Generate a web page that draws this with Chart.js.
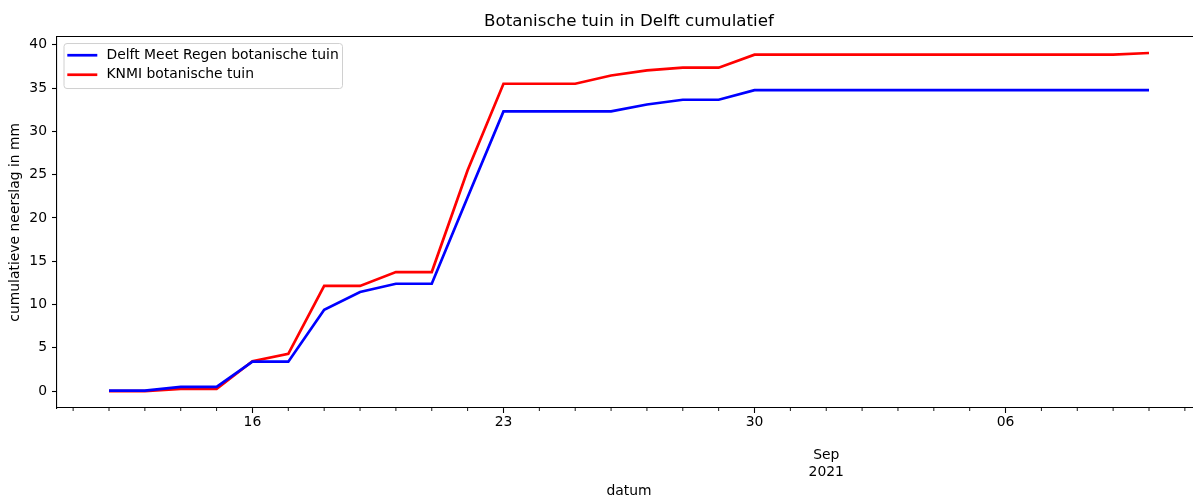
<!DOCTYPE html>
<html><head><meta charset="utf-8">
<script src="https://cdn.jsdelivr.net/npm/chart.js@4/dist/chart.umd.min.js"></script>
<style>html,body{margin:0;padding:0;overflow:hidden;background:#fff;width:1193px;height:498px}
#wrap{position:relative;width:1193px;height:498px;overflow:hidden}
canvas{display:block;position:absolute;left:0;top:0}</style>
</head><body>
<div id="wrap"><canvas id="c" width="1201" height="498" style="width:1201px;height:498px"></canvas></div>
<script>
const dates = ['2021-08-12','2021-08-13','2021-08-14','2021-08-15','2021-08-16','2021-08-17','2021-08-18','2021-08-19','2021-08-20','2021-08-21',
  '2021-08-22','2021-08-23','2021-08-24','2021-08-25','2021-08-26','2021-08-27','2021-08-28','2021-08-29','2021-08-30','2021-08-31',
  '2021-09-01','2021-09-02','2021-09-03','2021-09-04','2021-09-05','2021-09-06','2021-09-07','2021-09-08','2021-09-09','2021-09-10'];
const delftMeetRegen = [0.05,0.05,0.5,0.5,3.4,3.4,9.4,11.45,12.4,12.4,
  22.4,32.3,32.3,32.3,32.3,33.1,33.65,33.65,34.75,34.75,
  34.75,34.75,34.75,34.75,34.75,34.75,34.75,34.75,34.75,34.75];
const knmi = [0.0,0.0,0.25,0.25,3.45,4.3,12.15,12.15,13.75,13.75,
  25.5,35.5,35.5,35.5,36.45,37.05,37.35,37.35,38.85,38.85,
  38.85,38.85,38.85,38.85,38.85,38.85,38.85,38.85,38.85,39.05];
const seriesLabels = ['Delft Meet Regen botanische tuin','KNMI botanische tuin'];
const yTicks = [0,5,10,15,20,25,30,35,40];
const majorTickDates = ['2021-08-16','2021-08-23','2021-08-30','2021-09-06'];
const majorTickLabels = ['16','23','30','06'];
const monthTickDate = '2021-09-01';
const monthTickLabel = ['Sep','2021'];

const FONT = "'DejaVu Sans', sans-serif";
const DAY = 86400000;
const toDay = s => Date.UTC(+s.slice(0,4), +s.slice(5,7)-1, +s.slice(8,10)) / DAY;
const firstDay = toDay(dates[0]), lastDay = toDay(dates[dates.length-1]);
const margin = 0.05*(lastDay-firstDay);
const xMin = firstDay - margin, xMax = lastDay + margin;
const yMin = -1.95, yMax = 40.95;
const majorDays = majorTickDates.map(toDay);
const monthDay = toDay(monthTickDate);
const allDays = [];
for (let d = Math.ceil(xMin); d <= Math.floor(xMax); d++) allDays.push(d);
const isMajor = v => majorDays.includes(v);

const framePlugin = {
  id:'frame',
  afterDraw(chart){
    const c = chart.ctx, a = chart.chartArea, xs = chart.scales.x;
    c.save();
    c.strokeStyle = '#000'; c.lineWidth = 1.1;
    c.beginPath();
    c.moveTo(a.left, a.top); c.lineTo(a.right, a.top); c.lineTo(a.right, a.bottom);
    c.stroke();
    c.lineWidth = 0.9;
    c.beginPath();
    allDays.forEach(d => {
      if (isMajor(d)) return;
      const px = xs.getPixelForValue(d);
      c.moveTo(px, a.bottom); c.lineTo(px, a.bottom + 3);
    });
    c.stroke();
    const lx = a.left + 7, ly = a.top + 7, lw = 278.5, lh = 45, r = 3;
    c.beginPath();
    c.moveTo(lx+r, ly); c.lineTo(lx+lw-r, ly); c.arcTo(lx+lw, ly, lx+lw, ly+r, r);
    c.lineTo(lx+lw, ly+lh-r); c.arcTo(lx+lw, ly+lh, lx+lw-r, ly+lh, r);
    c.lineTo(lx+r, ly+lh); c.arcTo(lx, ly+lh, lx, ly+lh-r, r);
    c.lineTo(lx, ly+r); c.arcTo(lx, ly, lx+r, ly, r);
    c.closePath();
    c.fillStyle = 'rgba(255,255,255,0.8)'; c.fill();
    c.strokeStyle = '#d0d0d0'; c.lineWidth = 1; c.stroke();
    c.font = '13.9px ' + FONT; c.textBaseline = 'middle'; c.textAlign = 'left';
    chart.data.datasets.forEach((ds, i) => {
      const yy = ly + 11.7 + i*19.5;
      c.strokeStyle = ds.borderColor; c.lineWidth = ds.borderWidth;
      c.beginPath(); c.moveTo(lx + 3.3, yy); c.lineTo(lx + 33.3, yy); c.stroke();
      c.fillStyle = '#000'; c.fillText(ds.label, lx + 42.5, yy);
    });
    c.restore();
  }
};

new Chart(document.getElementById('c'), {
  type:'line',
  data:{datasets:[
    {label:seriesLabels[0], data:dates.map((d,i)=>({x:toDay(d), y:delftMeetRegen[i]})), borderColor:'#0000ff', borderWidth:2.7, pointRadius:0, tension:0, fill:false},
    {label:seriesLabels[1], data:dates.map((d,i)=>({x:toDay(d), y:knmi[i]})), borderColor:'#ff0000', borderWidth:2.7, pointRadius:0, tension:0, fill:false}
  ]},
  options:{
    responsive:false, animation:false, devicePixelRatio:1,
    layout:{padding:0},
    plugins:{
      legend:{display:false}, tooltip:{enabled:false},
      title:{display:true, fullSize:false, text:'Botanische tuin in Delft cumulatief', color:'#000',
        font:{family:FONT, size:16.7, weight:'normal', lineHeight:1.2}, padding:{top:11.5, bottom:5}}
    },
    scales:{
      x:{type:'linear', min:xMin, max:xMax,
        afterBuildTicks: s => { s.ticks = allDays.map(v => ({value:v})); },
        afterFit: s => { s.height = 90; },
        grid:{drawOnChartArea:false, drawTicks:true, tickLength:5, tickWidth:1.1,
          tickColor: ctx => (ctx.tick && isMajor(ctx.tick.value)) ? '#000' : 'rgba(0,0,0,0)'},
        border:{display:true, color:'#000', width:1.1},
        ticks:{autoSkip:false, maxRotation:0, minRotation:0, padding:1, color:'#000',
          font:{family:FONT, size:13.9, lineHeight:1.2},
          callback: v => {
            const mi = majorDays.indexOf(v);
            if (mi >= 0) return majorTickLabels[mi];
            if (v === monthDay) return ['', ''].concat(monthTickLabel);
            return '';
          }},
        title:{display:true, text:'datum', color:'#000', font:{family:FONT, size:13.9, lineHeight:1.2}, padding:{top:0, bottom:-1.5}}
      },
      y:{min:yMin, max:yMax,
        afterBuildTicks: s => { s.ticks = yTicks.map(v => ({value:v})); },
        afterFit: s => { s.width = 57; },
        grid:{drawOnChartArea:false, drawTicks:true, tickLength:5, tickWidth:1.1, tickColor:'#000'},
        border:{display:true, color:'#000', width:1.1},
        ticks:{padding:5, color:'#000', font:{family:FONT, size:13.9}},
        title:{display:true, text:'cumulatieve neerslag in mm', color:'#000', font:{family:FONT, size:13.9, lineHeight:1.2}, padding:{top:7.5, bottom:0}}
      }
    }
  },
  plugins:[framePlugin]
});
</script>
</body></html>
